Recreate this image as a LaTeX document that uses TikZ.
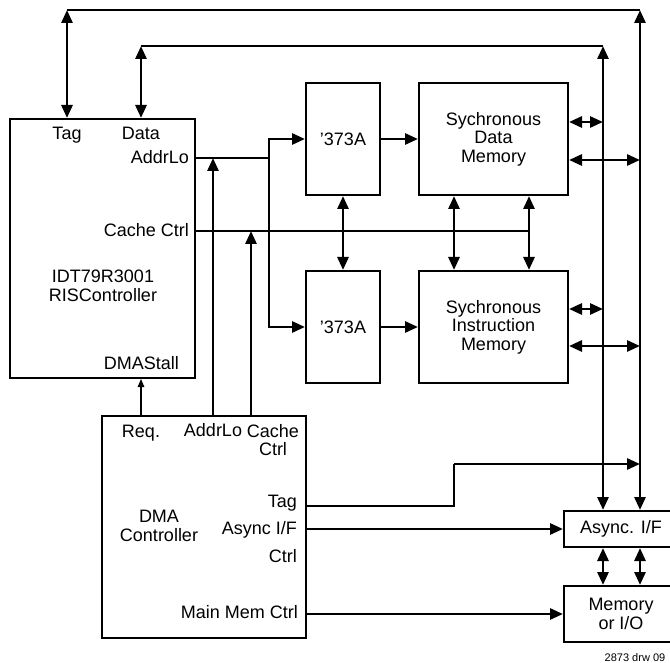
\documentclass[tikz,border=0pt]{standalone}
\usepackage{fontspec}
\setmainfont{Liberation Sans}
\usetikzlibrary{arrows.meta,positioning,calc}

\begin{document}
\begin{tikzpicture}[
    x=1pt, y=-1pt,
    every node/.style={font=\fontsize{18}{18.5}\selectfont},
    block/.style={rectangle, draw, line width=2pt, inner sep=0pt, align=center},
    lbl/.style={inner sep=0pt, align=center},
    bus/.style={line width=2.8pt},
    arrow/.style={bus, -{Triangle[length=13pt,width=11pt]}},
    dblarrow/.style={bus, {Triangle[length=13pt,width=11pt]}-{Triangle[length=13pt,width=11pt]}},
    thinarrow/.style={line width=1.3pt, -{Triangle[length=8pt,width=6.5pt]}}
]
\useasboundingbox (0,0) rectangle (670,663);

% Nodes
\node[block, minimum width=185pt, minimum height=259pt] (risc) at (102.5,248.5) {};
\node[block, minimum width=74pt, minimum height=112pt] (latch_a) at (343,139) {'373A};
\node[block, minimum width=74pt, minimum height=112pt, below=74pt of latch_a] (latch_b) {'373A};
\node[block, minimum width=149pt, minimum height=112pt, right=37pt of latch_a] (data_mem) {Sychronous\\Data\\Memory};
\node[block, minimum width=149pt, minimum height=112pt, right=37pt of latch_b] (instr_mem) {Sychronous\\Instruction\\Memory};
\node[block, minimum width=204pt, minimum height=222pt] (dma) at (204,527) {};
\node[block, minimum width=114pt, minimum height=36pt] (async) at (621,529) {Async. I/F};
\node[block, minimum width=114pt, minimum height=56pt, below=37pt of async] (mem_io) {Memory\\or I/O};

% Labels
\node[lbl, anchor=base] (risc_tag) at (67,140) {Tag};
\node[lbl, anchor=base] (risc_data) at (141,140) {Data};
\node[lbl, anchor=base east] (risc_addr) at (189,164) {AddrLo};
\node[lbl, anchor=base east] (risc_cache) at (189,237) {Cache Ctrl};
\node[lbl] (risc_name) at (103,286) {IDT79R3001\\RISController};
\node[lbl, anchor=base east] (risc_stall) at (179,370) {DMAStall};
\node[lbl, anchor=base] (dma_req) at (141,437) {Req.};
\node[lbl, anchor=base] (dma_addr) at (213,436) {AddrLo};
\node[lbl] (dma_cache) at (273,440) {Cache\\Ctrl};
\node[lbl, anchor=base east] (dma_tag) at (297,507) {Tag};
\node[lbl, anchor=base east] (dma_async) at (297,534) {Async I/F};
\node[lbl, anchor=base east] (dma_ctrl) at (297,562) {Ctrl};
\node[lbl] (dma_name) at (159,526) {DMA\\Controller};
\node[lbl, anchor=base east] (dma_main) at (298,618) {Main Mem Ctrl};
\node[lbl, font=\fontsize{11}{12}\selectfont] (drw) at (635,658) {2873 drw 09};

% Bus corners
\coordinate (tag_left) at (67,10);
\coordinate (tag_right) at (640,10);
\coordinate (data_left) at (141,46);
\coordinate (data_right) at (603,46);
\coordinate (addr_join) at (269,158);
\coordinate (cache_join) at (529,231);
\coordinate (cache_dma) at (251,416);
\coordinate (tag_step) at (454,506);
\coordinate (tag_step_up) at (454,464);
\coordinate (mem_x) at (454,0);
\coordinate (dm_a) at ([yshift=17pt]data_mem.east);
\coordinate (dm_b) at ([yshift=-21pt]data_mem.east);
\coordinate (im_a) at ([yshift=18pt]instr_mem.east);
\coordinate (im_b) at ([yshift=-19pt]instr_mem.east);

% Edges
\draw[dblarrow] (risc.north -| tag_left) -- (tag_left);
\draw[bus] (tag_left) -- (tag_right);
\draw[dblarrow] (tag_right) -- (async.north -| tag_right);

\draw[dblarrow] (risc.north -| data_left) -- (data_left);
\draw[bus] (data_left) -- (data_right);
\draw[dblarrow] (data_right) -- (async.north -| data_right);

\draw[bus] (risc.east |- addr_join) -- (addr_join);
\draw[arrow] (addr_join) |- (latch_a.west);
\draw[arrow] (addr_join) |- (latch_b.west);
\draw[arrow] (dma.north -| dma_addr) -- (dma_addr |- addr_join);

\draw[bus] (risc.east |- cache_join) -- (cache_join);
\draw[arrow] (cache_dma) -- (cache_dma |- cache_join);
\draw[dblarrow] (data_mem.south -| cache_join) -- (instr_mem.north -| cache_join);

\draw[dblarrow] (latch_a) -- (latch_b);
\draw[dblarrow] (data_mem.south -| mem_x) -- (instr_mem.north -| mem_x);
\draw[arrow] (latch_a) -- (data_mem);
\draw[arrow] (latch_b) -- (instr_mem);

\draw[dblarrow] (dm_a) -- (dm_a -| data_right);
\draw[dblarrow] (dm_b) -- (dm_b -| tag_right);
\draw[dblarrow] (im_a) -- (im_a -| data_right);
\draw[dblarrow] (im_b) -- (im_b -| tag_right);

\draw[thinarrow] (dma.north -| dma_req) -- (risc.south -| dma_req);

\draw[bus] (dma.east |- tag_step) -- (tag_step) -- (tag_step_up);
\draw[arrow] (tag_step_up) -- (tag_step_up -| tag_right);
\draw[arrow] (dma.east |- async.west) -- (async.west);
\draw[arrow] (dma.east |- mem_io.west) -- (mem_io.west);

\draw[dblarrow] (async.south -| data_right) -- (mem_io.north -| data_right);
\draw[dblarrow] (async.south -| tag_right) -- (mem_io.north -| tag_right);

\end{tikzpicture}
\end{document}
